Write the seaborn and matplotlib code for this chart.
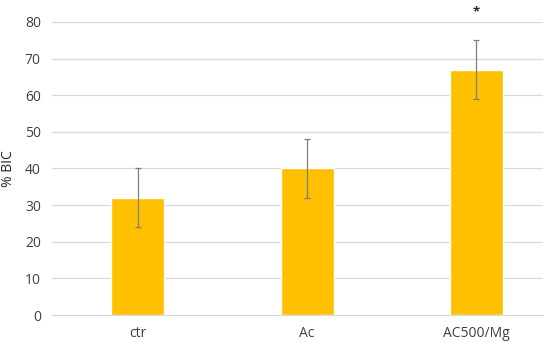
import pandas as pd
import matplotlib.pyplot as plt
import seaborn as sns

groups = ["ctr", "Ac", "AC500/Mg"]
bic_mean = [32, 40, 67]
bic_err = [8, 8, 8]
signif = ["", "", "*"]

sns.set_style("white")
plt.rcParams['font.family'] = ['Open Sans', 'DejaVu Sans']

df = pd.DataFrame({"group": groups, "bic": bic_mean})

fig = plt.figure(figsize=(5.5, 3.49), dpi=100)
ax = fig.add_axes([0.0945, 0.0974, 0.8925, 0.8396])

sns.barplot(data=df, x="group", y="bic", color="#FFC000", saturation=1,
            width=0.313, errorbar=None, ax=ax, zorder=2)
ax.errorbar(range(len(groups)), bic_mean, yerr=bic_err, fmt="none",
            ecolor="#7F7F7F", elinewidth=0.9, capsize=2.5, capthick=0.9, zorder=3)
for i, s in enumerate(signif):
    if s:
        ax.text(i, bic_mean[i] + bic_err[i] + 7.8, s, ha="center", va="center",
                fontsize=9.5, fontweight="bold", color="#262626", clip_on=False)

ax.set_ylim(0, 80)
ax.set_xlim(-0.508, 2.393)
ax.set_yticks(range(0, 81, 10))
ax.yaxis.grid(True, color="#D9D9D9", linewidth=0.9, zorder=0)
ax.set_axisbelow(True)
for sp in ["top", "right", "left"]:
    ax.spines[sp].set_visible(False)
ax.spines["bottom"].set_color("#D9D9D9")
ax.tick_params(axis="both", length=0, labelsize=10, colors="#404040", pad=8)
ax.set_xlabel("")
ax.set_ylabel("% BIC", fontsize=10, color="#262626")
ax.yaxis.set_label_coords(-0.073, 0.5)

plt.savefig("out.png", dpi=100)
